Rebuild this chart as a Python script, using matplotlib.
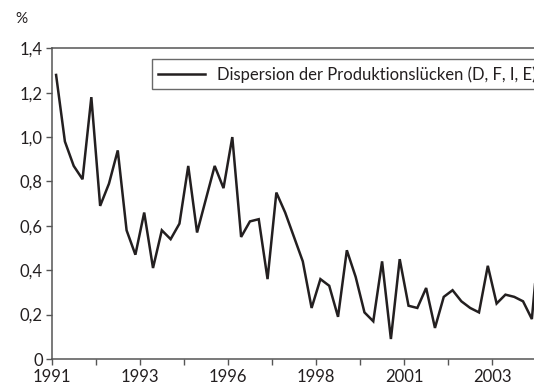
import numpy as np
import matplotlib
matplotlib.use('Agg')
import matplotlib.pyplot as plt

plt.rcParams.update({
    'font.family': ['Lato', 'DejaVu Sans'],
    'font.size': 12,
})

# Quarterly dispersion of output gaps, 1991 Q1 onwards (%)
dispersion = [1.28, 0.98, 0.87, 0.81, 1.18, 0.69, 0.79, 0.94,
              0.58, 0.47, 0.66, 0.41, 0.58, 0.54, 0.61, 0.87,
              0.57, 0.72, 0.87, 0.77, 1.00, 0.55, 0.62, 0.63,
              0.36, 0.75, 0.66, 0.55, 0.44, 0.23, 0.36, 0.33,
              0.19, 0.49, 0.37, 0.21, 0.17, 0.44, 0.09, 0.45,
              0.24, 0.23, 0.32, 0.14, 0.28, 0.31, 0.26, 0.23,
              0.21, 0.42, 0.25, 0.29, 0.28, 0.26, 0.18, 0.62]
year_labels = ['1991', '', '1993', '', '1996', '', '1998', '', '2001', '', '2003']
y_ticks = [0, 0.2, 0.4, 0.6, 0.8, 1.0, 1.2, 1.4]
y_labels = ['0', '0,2', '0,4', '0,6', '0,8', '1,0', '1,2', '1,4']
series_label = 'Dispersion der Produktionslücken (D, F, I, E)'

fig = plt.figure(figsize=(5.34, 3.89), dpi=100)
# axes run past the right edge of the figure
ax = fig.add_axes([0.0968, 0.0771, 0.9487, 0.7987])

quarters = np.arange(len(dispersion))
ax.plot(quarters, dispersion, color='#231f20', lw=1.8, solid_joinstyle='miter',
        label=series_label)

ax.set_xlim(-0.5, 57)
ax.set_ylim(0, 1.4)
ax.set_xticks(np.arange(len(year_labels)) * 5 - 0.5)
ax.set_xticklabels(year_labels)
ax.set_yticks(y_ticks)
ax.set_yticklabels(y_labels)

for side in ['left', 'bottom', 'top', 'right']:
    ax.spines[side].set_color('#555555')
    ax.spines[side].set_linewidth(1.1)
ax.tick_params(axis='both', colors='#555555', width=1.0, length=4.5,
               labelcolor='#231f20', labelsize=12)
ax.tick_params(axis='x', pad=2.5)
ax.tick_params(axis='y', pad=2)

fig.text(0.028, 0.95, '%', fontsize=11, color='#231f20', ha='left', va='center')

leg = ax.legend(loc='upper left', bbox_to_anchor=(0.1974, 0.9646), borderaxespad=0,
                frameon=True, fancybox=False, shadow=False, fontsize=12,
                handlelength=2.8, handletextpad=0.7, borderpad=0.4)
leg.get_frame().set_edgecolor('#444444')
leg.get_frame().set_linewidth(1.0)
for t in leg.get_texts():
    t.set_color('#231f20')

fig.savefig('out.png', dpi=100)
